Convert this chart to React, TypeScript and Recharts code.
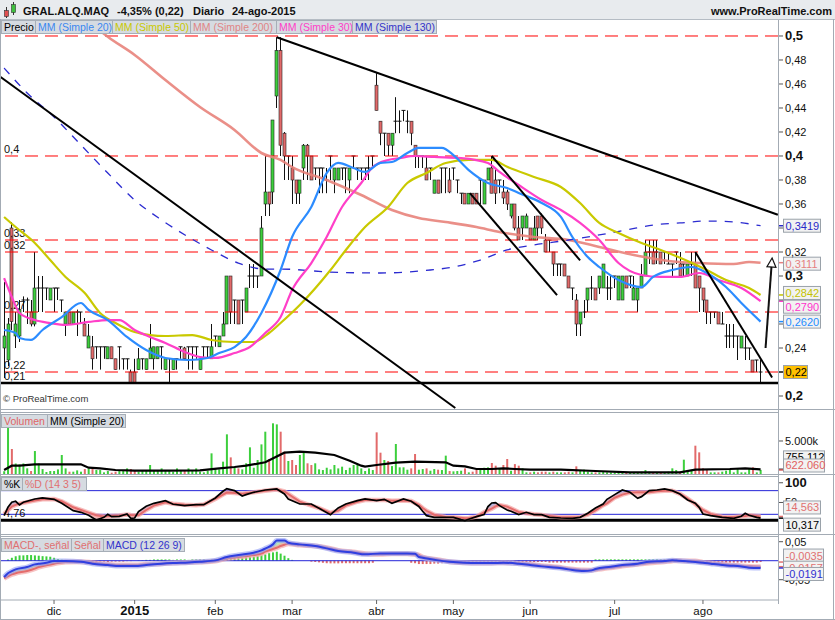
import React from 'react';
import { ComposedChart, Bar, Line, Area, XAxis, YAxis, ReferenceLine, Cell } from 'recharts';

const FONT = '"Liberation Sans", Arial, Helvetica, sans-serif';
const X_DOMAIN: [number, number] = [-1.07, 201.54];
const GREEN = '#3ccf3c';
const RED = '#e26a6a';
const FRAME = '#a3abb4';

// ---------- categories (trading-day index) ----------
const monthTicks = [13, 34, 55, 75, 97, 117, 137, 159, 182];
const monthLabels = ['dic', '2015', 'feb', 'mar', 'abr', 'may', 'jun', 'jul', 'ago'];

// ---------- price (OHLC) ----------
const openP = [
  .240,.230,.340,.250,.250,.280,.280,.270,.260,.290, .290,.290,.280,.290,.290,.280,.260,.270,.260,.270,
  .270,.260,.240,.241,.241,.241,.241,.231,.241,.231, .241,.231,.231,.220,.220,.222,.231,.222,.231,.231,
  .231,.241,.222,.231,.222,.231,.241,.240,.241,.241, .241,.222,.241,.241,.231,.250,.241,.250,.260,.300,
  .280,.280,.280,.270,.300,.300,.300,.300,.360,.370, .370,.450,.488,.419,.400,.390,.380,.369,.390,.409,
  .400,.390,.390,.390,.380,.400,.380,.380,.390,.390, .380,.400,.390,.390,.390,.390,.400,.459,.429,.419,
  .419,.409,.429,.429,.438,.429,.429,.409,.400,.400, .390,.390,.369,.380,.390,.390,.380,.390,.380,.369,
  .369,.360,.369,.369,.380,.360,.380,.390,.380,.380, .370,.370,.350,.360,.340,.340,.340,.340,.330,.350,
  .350,.330,.330,.320,.310,.310,.310,.300,.290,.280, .260,.270,.280,.290,.290,.290,.290,.290,.290,.300,
  .280,.280,.300,.300,.280,.280,.290,.300,.320,.320, .320,.320,.320,.310,.310,.320,.310,.310,.300,.310,
  .310,.300,.290,.280,.270,.270,.270,.260,.250,.250, .250,.250,.240,.240,.240,.230,.230,.220,
];
const highP = [
  .295,.265,.345,.270,.280,.283,.282,.280,.320,.300, .300,.290,.290,.290,.290,.280,.270,.270,.270,.272,
  .270,.265,.260,.250,.241,.241,.241,.241,.241,.231, .241,.231,.231,.222,.231,.240,.231,.231,.260,.241,
  .241,.241,.231,.231,.231,.231,.241,.241,.241,.241, .241,.231,.241,.241,.260,.250,.250,.270,.300,.300,
  .280,.280,.280,.290,.310,.310,.300,.350,.400,.370, .430,.499,.499,.420,.400,.400,.380,.380,.410,.410,
  .400,.390,.390,.390,.390,.400,.390,.390,.390,.390, .390,.400,.390,.390,.390,.400,.400,.469,.429,.419,
  .419,.419,.449,.438,.438,.438,.429,.409,.400,.400, .400,.390,.380,.380,.390,.390,.390,.390,.380,.369,
  .369,.369,.369,.369,.380,.380,.390,.400,.390,.380, .380,.372,.360,.360,.350,.350,.352,.340,.350,.350,
  .352,.335,.330,.320,.310,.310,.310,.300,.290,.285, .270,.280,.290,.300,.290,.300,.310,.300,.300,.300,
  .300,.300,.300,.300,.300,.290,.310,.330,.330,.330, .330,.320,.320,.320,.310,.320,.320,.310,.310,.320,
  .320,.300,.290,.280,.270,.270,.270,.270,.260,.260, .260,.250,.250,.250,.240,.230,.230,.230,
];
const lowP = [
  .215,.225,.255,.240,.245,.270,.260,.258,.258,.270, .270,.280,.280,.270,.280,.270,.250,.260,.260,.250,
  .260,.250,.240,.222,.231,.222,.231,.231,.231,.222, .222,.222,.222,.211,.211,.222,.222,.222,.231,.222,
  .231,.222,.222,.211,.222,.222,.231,.231,.222,.222, .231,.222,.231,.231,.231,.241,.241,.250,.260,.260,
  .260,.260,.260,.270,.290,.290,.290,.300,.350,.350, .360,.440,.400,.380,.380,.360,.360,.360,.380,.380,
  .380,.380,.369,.369,.369,.380,.369,.380,.380,.369, .369,.390,.380,.380,.380,.380,.390,.438,.409,.400,
  .400,.400,.419,.419,.429,.419,.409,.390,.390,.390, .380,.380,.369,.369,.369,.369,.369,.380,.369,.360,
  .360,.360,.360,.360,.360,.360,.380,.369,.360,.369, .360,.355,.348,.338,.330,.330,.340,.330,.330,.330,
  .335,.320,.320,.300,.300,.300,.300,.290,.280,.250, .250,.265,.270,.280,.280,.285,.290,.280,.280,.290,
  .280,.280,.290,.290,.280,.270,.290,.300,.310,.310, .310,.310,.310,.310,.300,.310,.300,.300,.300,.300,
  .290,.270,.270,.260,.260,.265,.260,.260,.240,.240, .240,.230,.240,.230,.230,.220,.220,.211,
];
const closeP = [
  .250,.260,.262,.260,.272,.280,.280,.260,.290,.290, .290,.290,.290,.290,.290,.280,.270,.260,.270,.270,
  .270,.250,.250,.231,.241,.241,.241,.241,.231,.222, .241,.231,.231,.211,.211,.231,.231,.231,.240,.241,
  .241,.241,.231,.231,.231,.231,.241,.231,.241,.241, .241,.231,.241,.241,.241,.250,.250,.260,.300,.270,
  .280,.260,.280,.290,.300,.300,.300,.340,.370,.360, .430,.488,.409,.400,.400,.380,.369,.380,.409,.400,
  .380,.390,.390,.390,.380,.400,.390,.390,.390,.390, .390,.400,.390,.390,.390,.390,.400,.438,.419,.419,
  .409,.419,.429,.429,.438,.429,.419,.400,.400,.400, .380,.390,.380,.369,.390,.390,.370,.390,.380,.369,
  .360,.369,.360,.360,.380,.380,.390,.369,.369,.380, .365,.360,.360,.340,.330,.350,.350,.330,.340,.340,
  .340,.320,.330,.310,.310,.310,.300,.290,.290,.260, .270,.270,.290,.290,.280,.300,.310,.290,.290,.300,
  .300,.300,.290,.300,.290,.290,.300,.320,.320,.310, .320,.310,.320,.310,.310,.320,.300,.310,.310,.310,
  .290,.290,.280,.270,.270,.270,.260,.260,.250,.250, .250,.250,.250,.240,.240,.220,.230,.220,
];

// ---------- moving averages [index, value] ----------
const ma20 = [[0,.255],[3,.2525],[4,.2483],[7,.2467],[10,.255],[15,.2658],[20,.2775],[22,.2717],[27,.2633],[32,.2492],[37,.2383],[42,.2317],[48,.23],[53,.2317],[56,.2358],[60,.2408],[63,.2492],[67,.2692],[72,.305],[75,.3325],[80,.3575],[84,.3858],[87,.3942],[91,.39],[94,.3867],[98,.3942],[101,.395],[105,.4025],[108,.4067],[114,.4067],[117,.4008],[121,.3883],[126,.3775],[131,.3733],[134,.3692],[140,.3608],[145,.3492],[148,.3325],[152,.3158],[155,.3075],[160,.2967],[166,.2908],[169,.2992],[174,.305],[179,.3075],[183,.3025],[188,.2908],[192,.2775],[197,.262]];
const ma50 = [[0,.3492],[3,.3408],[8,.3275],[12,.3133],[16,.2992],[21,.2858],[25,.2692],[29,.2608],[34,.2533],[38,.2508],[42,.25],[49,.2508],[54,.2467],[60,.245],[65,.245],[69,.2525],[72,.2608],[77,.2758],[85,.305],[89,.3217],[94,.3408],[100,.3575],[105,.3775],[110,.3858],[115,.3942],[121,.3967],[127,.3967],[131,.391],[138,.3825],[145,.3742],[150,.3608],[155,.3442],[160,.3358],[166,.3275],[171,.3217],[178,.3125],[183,.305],[188,.2967],[194,.29],[197,.2842]];
const ma200 = [[18,.522],[24,.507],[27,.4994],[34,.4842],[42,.4633],[51,.4408],[60,.4217],[67,.4025],[72,.3967],[75,.3908],[84,.38],[93,.3675],[101,.355],[108,.3483],[115,.345],[123,.3408],[129,.3367],[138,.3325],[147,.33],[155,.3242],[164,.3175],[173,.3125],[181,.3108],[190,.31],[194,.3117],[197,.3111]];
const ma30 = [[0,.2983],[2,.2825],[4,.2692],[8,.2633],[12,.2608],[16,.2592],[22,.2617],[27,.2633],[30,.2633],[34,.255],[38,.2492],[42,.2442],[47,.2367],[51,.2325],[55,.2317],[60,.2358],[64,.2408],[68,.2525],[72,.2658],[75,.2883],[80,.3108],[84,.3325],[88,.3575],[93,.3775],[96,.3908],[100,.3967],[103,.3983],[107,.40],[112,.3992],[119,.3983],[126,.3942],[129,.3867],[134,.3758],[140,.3633],[145,.355],[150,.3442],[155,.33],[160,.3108],[166,.3008],[171,.2992],[176,.2992],[181,.3025],[186,.2967],[192,.29],[197,.279]];
const ma130 = [[0,.4733],[6,.4525],[13,.4325],[20,.4092],[27,.3858],[34,.3633],[41,.3467],[48,.3325],[54,.3217],[61,.3108],[68,.3058],[72,.3058],[85,.3033],[98,.3025],[111,.305],[117,.3075],[124,.3133],[131,.3217],[138,.3258],[147,.33],[155,.3342],[162,.3383],[169,.3425],[176,.3442],[183,.3458],[190,.345],[197,.3419]];

// ---------- price annotations ----------
const dashedLevels = [0.5, 0.4, 0.33, 0.32, 0.27, 0.22];
const dashedLabels = ['', '0,4', '0,33', '0,32', '0,27', '0,22'];
const supportLevel = 0.2108;
const trendLines = [
  [[-1, 0.466], [117.5, 0.19]],
  [[71, 0.499], [201.5, 0.351]],
  [[127, 0.40], [150, 0.313]],
  [[121.3, 0.369], [144, 0.284]],
  [[180, 0.32], [200, 0.2155]],
];
const arrowLine = [[198.3, 0.24], [200, 0.315]];
const priceTicks = [0.2,0.22,0.24,0.26,0.28,0.3,0.32,0.34,0.36,0.38,0.4,0.42,0.44,0.46,0.48,0.5];
const hiddenPriceTicks = [0.22, 0.26, 0.28, 0.34];

// ---------- volume (thousands) ----------
const volume = [
  400,7000,3790,1600,1450,1600,860,450,3480,1600, 750,300,450,450,700,2880,850,350,350,550,
  350,750,850,750,600,600,250,450,200,350, 450,600,850,750,450,350,600,450,1360,550,
  450,850,450,450,350,850,550,450,850,550, 850,350,250,500,3130,850,700,1870,6010,2520,
  950,850,700,1620,4040,950,2120,4490,6410,2270, 7680,7520,6410,3380,1970,2120,1360,2880,3380,1620,
  1360,1620,700,600,950,700,1360,850,1110,600, 950,1360,1470,850,450,850,600,6310,3230,2120,
  1970,1200,4545,1010,1010,650,850,3030,650,750, 850,500,750,650,600,2780,450,400,450,500,
  850,250,350,650,850,950,1010,1670,1260,850, 1360,2270,500,1500,1260,850,250,250,350,250,
  350,350,250,350,250,250,250,350,250,1160, 500,650,350,250,250,250,350,250,250,250,
  250,250,250,250,250,250,350,600,350,250, 250,250,250,350,860,600,350,2170,350,500,
  4290,3280,860,750,250,250,250,350,500,750, 250,750,250,250,750,1010,250,622,
];
const volumeMA = [[0,606],[2,1262],[4,1262],[8,1465],[16,1465],[20,1465],[22,960],[25,860],[29,606],[34,505],[42,505],[51,555],[56,860],[60,1060],[63,1262],[68,1770],[73,3230],[77,3380],[81,3230],[86,2880],[90,2020],[93,1262],[94,1110],[97,1360],[102,1717],[107,1870],[115,1770],[117,1262],[120,1160],[123,757],[127,757],[130,860],[133,757],[137,656],[145,656],[154,455],[163,252],[176,252],[180,656],[189,757],[193,860],[197,700]];

// ---------- stochastic ----------
const stochIdx = [0,1,2,3,4,5,8,10,13,15,18,20,22,24,26,27,28,30,32,33,34,35,37,39,42,44,47,50,52,55,57,58,60,62,63,65,68,71,73,74,77,80,82,85,87,89,92,94,97,99,101,104,106,108,109,110,112,115,117,119,120,121,123,125,126,127,128,129,131,132,134,136,138,140,142,145,148,150,152,154,156,157,159,161,163,165,166,168,170,172,174,176,178,180,181,182,184,187,190,192,193,194,196,197];
const stochK = [16.7,37.8,50.5,53,43.7,50.5,58.9,61.5,58,48,29.3,25.1,17.5,5.7,12.4,20,14.1,15,20.9,9.9,10.7,26.8,40.3,47.9,54.7,45.4,42,44.5,44.5,61.5,78.4,85.1,80,66.5,69.9,75.8,81.7,84.3,71.6,58.9,46.2,46.2,35.2,19.2,36.1,46.2,54.7,58.9,54.7,58,48,58.9,53,40,27.6,16.7,12.4,12.4,12.4,6.5,4,7.4,14.1,19.2,39.5,48.8,49.6,42,31,27.6,19.2,25.1,19.2,19.2,12.4,10.7,9.9,12.4,22.6,36.1,46.2,58,69.9,81.7,75.8,60.6,64.8,80,81.7,84.3,80,71.6,56.4,48,37.8,20.9,16.7,12.4,9.9,15,22.6,17.5,12.4,10.3];
const stochD = [20.9,30,39.5,44,47.1,49,54.7,58,58.9,53,37.8,31,24.3,17.5,14.5,15,15.8,17,19.2,18,17.5,17.5,31,42,50.5,47,44,43,45,58.9,70,75,74,72,73.3,76,80,82.6,78,71.6,52,42,36,23.4,29.3,42,52,56.4,56.4,56,54.7,55,53.8,43.7,36,29,19,13.5,12.4,11,9.9,10.5,14.1,25.1,30,34.4,40,43.7,39.5,35,25.9,22.5,20,18,16,12.4,12.4,13.5,19.2,30,43,48,62,70,75,76,75.8,75.8,78.5,80,80,72,60,46.2,38,31,21,14,13,15,16,17.5,16,14.6];

// ---------- MACD ----------
const macdIdx = [0,1,2,3,6,8,9,11,13,16,20,23,27,30,34,37,41,44,48,51,55,58,61,65,67,68,70,71,72,73,74,77,81,84,87,91,94,98,101,105,107,108,109,113,116,120,123,127,130,134,137,140,144,147,151,153,154,158,161,165,168,172,174,175,177,180,182,184,187,189,191,194,197];
const macdLine = [-0.043,-0.033,-0.0275,-0.0228,-0.0167,-0.0096,-0.0083,-0.0053,-0.0009,-0.0009,-0.0026,-0.0079,-0.0114,-0.014,-0.014,-0.0114,-0.0079,-0.0061,-0.0044,-0.0026,0.0009,0.0096,0.0149,0.0211,0.0272,0.032,0.043,0.0535,0.0535,0.0535,0.0474,0.043,0.0386,0.0325,0.0254,0.0211,0.0167,0.0193,0.0193,0.0193,0.0184,0.0096,0.0079,0.0009,-0.0026,-0.0053,-0.0061,-0.0061,-0.0053,-0.0079,-0.0114,-0.0149,-0.0184,-0.0228,-0.0272,-0.0254,-0.0219,-0.0158,-0.0114,-0.0079,-0.0026,-0.0009,0.0009,0.0005,-0.0009,-0.0035,-0.0055,-0.0079,-0.0114,-0.0132,-0.014,-0.0184,-0.0191];
const signalLine = [-0.0465,-0.041,-0.036,-0.033,-0.0272,-0.021,-0.0167,-0.012,-0.0079,-0.0035,-0.0026,-0.0053,-0.0096,-0.0114,-0.0114,-0.0096,-0.0079,-0.0061,-0.0044,-0.0035,-0.0009,0.0061,0.0096,0.0149,0.0188,0.0237,0.031,0.034,0.0386,0.042,0.0447,0.0412,0.0386,0.0342,0.0272,0.0228,0.0184,0.0167,0.0184,0.0184,0.0165,0.0149,0.0096,0.0026,-0.0026,-0.0053,-0.0061,-0.0061,-0.0053,-0.007,-0.0096,-0.0132,-0.0167,-0.0211,-0.0246,-0.0248,-0.0237,-0.0184,-0.014,-0.0096,-0.0061,-0.0026,-0.0005,0,-0.0005,-0.0009,-0.0044,-0.006,-0.0088,-0.0114,-0.0127,-0.0149,-0.0157];
const macdHist = [
  0,.0033,.0077,.012,.014,.014,.0149,.0149,.014,.0132, .012,.0114,.0105,.0077,.0044,.0026,.0011,0,0,0,
  0,-.0011,-.0022,-.0022,-.0033,-.0022,-.0022,-.0033,-.0022,-.0022, -.0022,-.0022,-.0011,-.0011,0,.0011,.0011,.0022,.0022,.0033,
  .0033,.0033,.0033,.0033,.0022,.0033,.0033,.0033,.0022,.0033, .0033,.0033,.0033,.0022,.0033,.0033,.0033,.0033,.0044,.0055,
  .0066,.0077,.0077,.0088,.0099,.011,.0121,.0143,.0165,.0198, .022,.0237,.0187,.0132,.0066,.0022,0,0,0,0,
  -.0026,-.0033,-.0044,-.0055,-.0066,-.007,-.007,-.007,-.0066,-.0066, -.0066,-.0066,-.0066,-.0066,-.0066,-.0066,-.0055,0,0,0,
  0,0,0,0,0,0,-.0055,-.0066,-.0088,-.0088, -.0088,-.0088,-.0077,-.0077,-.0066,-.0044,-.0033,-.0033,-.0033,-.0033,
  -.0033,-.0033,-.0033,-.0033,-.0033,-.0033,-.0033,-.0033,-.0033,-.0033, -.0033,-.0033,-.0033,-.0033,-.0033,-.0033,-.0033,-.0033,-.0033,-.0033,
  -.0033,-.0033,-.005,-.005,-.005,-.005,-.005,-.005,-.005,-.005, -.005,-.005,-.005,-.005,.0035,.0035,.0035,.0035,.0035,.0035,
  .0035,.0035,.0035,.0035,.0035,.0035,.0035,.0035,.0035,.0035, .0035,.0035,.0035,.0035,.0035,.0035,0,-.005,-.005,-.005,
  -.005,-.005,-.005,-.005,-.005,-.005,-.005,-.005,-.005,-.005, -.005,-.005,-.005,-.005,-.005,-.005,-.005,-.0035,
];

// ---------- derived tables ----------
const candleRows = closeP.map((c, i) => ({ i, o: openP[i], h: highP[i], l: lowP[i], c, range: [lowP[i], highP[i]] }));
const volumeRows = volume.map((v, i) => ({ i, v, up: closeP[i] >= openP[i] }));
const histRows = macdHist.map((h, i) => ({ i, h }));
const toPts = (arr: number[][]) => arr.map(([i, v]) => ({ i, v }));
const stochRows = stochIdx.map((i, n) => {
  const k = stochK[n], d = stochD[n];
  return { i, k, d, up: k >= d ? [d, k] : [k, k], dn: k < d ? [k, d] : [d, d] };
});
const macdRows = macdIdx.map((i, n) => {
  const m = macdLine[n], s = signalLine[n];
  return { i, m, s, up: m >= s ? [s, m] : [m, m], dn: m < s ? [m, s] : [s, s] };
});

// ---------- shapes ----------
const CandleShape = (props: any) => {
  const { x, y, width, height, payload } = props;
  if (x == null || y == null || !payload) return <g />;
  const top = height >= 0 ? y : y + height;
  const hgt = Math.abs(height || 0);
  const { o, h, l, c } = payload;
  const span = h - l;
  const py = (v: number) => (span > 0 ? top + ((h - v) / span) * hgt : top);
  const cx = Math.round(x + width / 2) + 0.5;
  const bTop = py(Math.max(o, c));
  const bBot = py(Math.min(o, c));
  const up = c >= o;
  return (
    <g>
      <line x1={cx} x2={cx} y1={top} y2={top + hgt} stroke="#111" strokeWidth={1} />
      {bBot - bTop < 1.2 ? (
        <line x1={cx - 2} x2={cx + 2} y1={bTop} y2={bTop} stroke="#111" strokeWidth={1} />
      ) : (
        <rect x={cx - 1.5} y={bTop} width={3} height={bBot - bTop} fill={up ? GREEN : RED} stroke="#222" strokeWidth={0.6} />
      )}
    </g>
  );
};

const ArrowShape = (p: any) => {
  const x1 = Number(p.x1), y1 = Number(p.y1), x2 = Number(p.x2), y2 = Number(p.y2);
  const dx = x2 - x1, dy = y2 - y1;
  const len = Math.hypot(dx, dy) || 1;
  const ux = dx / len, uy = dy / len;
  const bx = x2 - ux * 9, by = y2 - uy * 9;
  const nx = -uy, ny = ux;
  return (
    <g>
      <line x1={x1} y1={y1} x2={bx} y2={by} stroke="#111" strokeWidth={2} />
      <polygon points={`${x2},${y2} ${bx + nx * 4.5},${by + ny * 4.5} ${bx - nx * 4.5},${by - ny * 4.5}`} fill="#fff" stroke="#111" strokeWidth={1.2} />
    </g>
  );
};

const LeftLabel = (props: any) => {
  const { viewBox, text } = props;
  if (!viewBox || !text) return <g />;
  return <text x={4} y={viewBox.y - 3} fontSize={11} fill="#111" fontFamily={FONT}>{text}</text>;
};

// right-axis text drawn as a reference label so that value boxes drawn later cover it
const AxisText = (props: any) => {
  const { viewBox, text } = props;
  if (!viewBox) return <g />;
  const xr = viewBox.x + viewBox.width;
  return <text x={xr + 7} y={viewBox.y + 4} fontSize={11} fill="#111" fontFamily={FONT}>{text}</text>;
};

const ValueBox = (props: any) => {
  const { viewBox, text, color, bg = '#f2f2f2', dy = 0, w = 37 } = props;
  if (!viewBox) return <g />;
  const xr = viewBox.x + viewBox.width;
  const yv = viewBox.y;
  const cy = yv + dy;
  return (
    <g>
      <line x1={xr} x2={xr + 5} y1={yv} y2={yv} stroke={color} strokeWidth={1.5} />
      <rect x={xr + 5.5} y={cy - 6.5} width={w} height={13} fill={bg} stroke="#9aa2aa" strokeWidth={1} />
      <text x={xr + 7.5} y={cy + 4} fontSize={11} fill={color} fontFamily={FONT}>{text}</text>
    </g>
  );
};

const PriceTick = (props: any) => {
  const { x, y, payload } = props;
  const v = payload.value as number;
  if (hiddenPriceTicks.some((h) => Math.abs(h - v) < 1e-6)) return <g />;
  const major = [0.5, 0.4, 0.3, 0.2].some((m) => Math.abs(m - v) < 1e-6);
  const label = String(+v.toFixed(2)).replace('.', ',');
  return (
    <text x={x} y={y + 4} fontSize={major ? 13 : 11} fontWeight={major ? 700 : 400} fill="#111" fontFamily={FONT}>{label}</text>
  );
};

const SimpleTick = (fmt: (v: number) => string, show: number[], boldVal?: number) => (props: any) => {
  const { x, y, payload } = props;
  const v = payload.value as number;
  if (!show.includes(v)) return <g />;
  const bold = boldVal !== undefined && v === boldVal;
  return (
    <text x={x} y={y + 4} fontSize={bold ? 13 : 11} fontWeight={bold ? 700 : 400} fill="#111" fontFamily={FONT}>{fmt(v)}</text>
  );
};
const VolTick = SimpleTick(() => '5.000k', [5000]);
const StochTick = SimpleTick((v) => String(v), [100], 100);
const MacdTick = SimpleTick((v) => v.toFixed(2).replace('.', ','), [0.05]);

const MonthTick = (props: any) => {
  const { x, y, payload } = props;
  const idx = monthTicks.indexOf(payload.value);
  const lab = idx >= 0 ? monthLabels[idx] : '';
  const bold = lab === '2015';
  return (
    <text x={x} y={y + 9} textAnchor="middle" fontSize={bold ? 13 : 11.5} fontWeight={bold ? 700 : 400} fill="#111" fontFamily={FONT}>{lab}</text>
  );
};

const M0 = { top: 0, right: 0, bottom: 0, left: 0 };
const M10 = { top: 10, right: 0, bottom: 0, left: 0 };

const hiddenX = (
  <XAxis dataKey="i" type="number" domain={X_DOMAIN} allowDataOverflow hide height={0} />
);

type Leg = { t: string; c: string; x: number; w: number };
const LegendRow = ({ items, y }: { items: Leg[]; y: number }) => (
  <g>
    {items.map((it) => (
      <g key={it.t}>
        <rect x={it.x + 0.5} y={y + 0.5} width={it.w} height={13} fill="#d6dbe1" stroke="#a6aeb7" />
        <text x={it.x + 3} y={y + 10.5} fontSize={10.5} fill={it.c} fontFamily={FONT}>{it.t}</text>
      </g>
    ))}
  </g>
);

const priceLegend: Leg[] = [
  { t: 'Precio', c: '#000', x: 1, w: 34 },
  { t: 'MM (Simple 20)', c: '#3a87f0', x: 35, w: 77 },
  { t: 'MM (Simple 50)', c: '#c8c800', x: 112, w: 78 },
  { t: 'MM (Simple 200)', c: '#e08585', x: 190, w: 86 },
  { t: 'MM (Simple 30)', c: '#ff40c8', x: 276, w: 76 },
  { t: 'MM (Simple 130)', c: '#3333c8', x: 352, w: 84 },
];
const volLegend: Leg[] = [
  { t: 'Volumen', c: '#e06666', x: 1, w: 46 },
  { t: 'MM (Simple 20)', c: '#000', x: 47, w: 78 },
];
const stochLegend: Leg[] = [
  { t: '%K', c: '#000', x: 1, w: 21 },
  { t: '%D (14 3 5)', c: '#e07070', x: 22, w: 64 },
];
const macdLegend: Leg[] = [
  { t: 'MACD-, señal', c: '#e07070', x: 1, w: 70 },
  { t: 'Señal', c: '#e07070', x: 71, w: 32 },
  { t: 'MACD (12 26 9)', c: '#3333cc', x: 103, w: 81 },
];

export default function App() {
  return (
    <div style={{ position: 'absolute', left: 0, top: 0, width: 835, height: 620, background: '#fff', overflow: 'hidden', fontFamily: FONT }}>
      {/* PRICE PANEL */}
      <div style={{ position: 'absolute', left: 0, top: 20 }}>
        <ComposedChart width={835} height={389} data={candleRows} margin={M0}>
          {hiddenX}
          <YAxis orientation="right" width={57} domain={[0.18917, 0.51333]} allowDataOverflow ticks={priceTicks} interval={0}
            tick={<PriceTick />} tickSize={5} tickLine={{ stroke: '#555' }} axisLine={false} />
          {dashedLevels.map((v, n) => (
            <ReferenceLine key={v} y={v} stroke="#ff0000" strokeDasharray="13 7" strokeWidth={1}
              label={<LeftLabel text={dashedLabels[n]} />} />
          ))}
          <ReferenceLine y={supportLevel} stroke="#000" strokeWidth={2.5} label={<LeftLabel text="0,21" />} />
          <Bar dataKey="range" barSize={3} shape={(p: any) => <CandleShape {...p} />} isAnimationActive={false} />
          <Line data={toPts(ma200)} dataKey="v" type="monotone" stroke="#e8837b" strokeWidth={2.6} strokeOpacity={0.9} dot={false} isAnimationActive={false} />
          <Line data={toPts(ma130)} dataKey="v" type="monotone" stroke="#2b2bd0" strokeWidth={1.3} strokeDasharray="8 8" dot={false} isAnimationActive={false} />
          <Line data={toPts(ma50)} dataKey="v" type="monotone" stroke="#c9c900" strokeWidth={2.2} dot={false} isAnimationActive={false} />
          <Line data={toPts(ma30)} dataKey="v" type="monotone" stroke="#ff3fc8" strokeWidth={2.2} dot={false} isAnimationActive={false} />
          <Line data={toPts(ma20)} dataKey="v" type="monotone" stroke="#2c8cff" strokeWidth={2.2} dot={false} isAnimationActive={false} />
          {trendLines.map((seg, n) => (
            <ReferenceLine key={'t' + n} segment={[{ x: seg[0][0], y: seg[0][1] }, { x: seg[1][0], y: seg[1][1] }]}
              stroke="#000" strokeWidth={2} ifOverflow="visible" />
          ))}
          <ReferenceLine segment={[{ x: arrowLine[0][0], y: arrowLine[0][1] }, { x: arrowLine[1][0], y: arrowLine[1][1] }]}
            ifOverflow="visible" shape={(p: any) => <ArrowShape {...p} />} />
          <ReferenceLine y={0.3419} stroke="none" label={<ValueBox text="0,3419" color="#2929c8" dy={0} />} />
          <ReferenceLine y={0.3111} stroke="none" label={<ValueBox text="0,3111" color="#e58080" dy={1} />} />
          <ReferenceLine y={0.2842} stroke="none" label={<ValueBox text="0,2842" color="#c2c200" dy={-2} />} />
          <ReferenceLine y={0.2790} stroke="none" label={<ValueBox text="0,2790" color="#ff33cc" dy={5.5} />} />
          <ReferenceLine y={0.2620} stroke="none" label={<ValueBox text="0,2620" color="#1e8cff" dy={0} />} />
          <ReferenceLine y={0.22} stroke="none" label={<ValueBox text="0,22" color="#000" bg="#ffc000" w={24} dy={0} />} />
        </ComposedChart>
      </div>

      {/* VOLUME PANEL */}
      <div style={{ position: 'absolute', left: 0, top: 403 }}>
        <ComposedChart width={835} height={71} data={volumeRows} margin={M10}>
          {hiddenX}
          <YAxis orientation="right" width={57} domain={[0, 9242]} allowDataOverflow ticks={[5000]} interval={0}
            tick={<VolTick />} tickSize={5} tickLine={{ stroke: '#555' }} axisLine={false} />
          <Bar dataKey="v" barSize={2} isAnimationActive={false}>
            {volumeRows.map((r) => <Cell key={r.i} fill={r.up ? GREEN : RED} />)}
          </Bar>
          <Line data={toPts(volumeMA)} dataKey="v" type="linear" stroke="#000" strokeWidth={2.2} dot={false} isAnimationActive={false} />
          <ReferenceLine y={700} stroke="none" label={<ValueBox text="755.112" color="#000" dy={-12} w={41} />} />
          <ReferenceLine y={622.06} stroke="none" label={<ValueBox text="622.060" color="#e06060" dy={-4.4} w={41} />} />
        </ComposedChart>
      </div>

      {/* STOCHASTIC PANEL */}
      <div style={{ position: 'absolute', left: 0, top: 467 }}>
        <ComposedChart width={835} height={67} data={stochRows} margin={M10}>
          {hiddenX}
          <YAxis orientation="right" width={57} domain={[-29.9, 114.6]} allowDataOverflow ticks={[50, 100]} interval={0}
            tick={<StochTick />} tickSize={5} tickLine={{ stroke: '#555' }} axisLine={false} />
          <ReferenceLine y={80} stroke="#2424d8" strokeWidth={1} />
          <ReferenceLine y={20} stroke="#2424d8" strokeWidth={1} />
          <ReferenceLine y={4.76} stroke="#000" strokeWidth={3} label={<LeftLabel text="4,76" />} />
          <Area dataKey="up" type="linear" stroke="none" fill="#8f8fd2" fillOpacity={0.65} isAnimationActive={false} />
          <Area dataKey="dn" type="linear" stroke="none" fill="#f2a9a9" fillOpacity={0.65} isAnimationActive={false} />
          <Line dataKey="d" type="linear" stroke="#f3a3a3" strokeWidth={4.5} strokeOpacity={0.7} dot={false} isAnimationActive={false} />
          <Line dataKey="d" type="linear" stroke="#e46c6c" strokeWidth={2} dot={false} isAnimationActive={false} />
          <Line dataKey="k" type="linear" stroke="#000" strokeWidth={1.7} dot={false} isAnimationActive={false} />
          <ReferenceLine y={50} stroke="none" label={<AxisText text="50" />} />
          <ReferenceLine y={14.563} stroke="none" label={<ValueBox text="14,563" color="#e07070" dy={-9} w={37} />} />
          <ReferenceLine y={10.317} stroke="none" label={<ValueBox text="10,317" color="#000" dy={6.5} w={37} />} />
        </ComposedChart>
      </div>

      {/* MACD PANEL + X AXIS */}
      <div style={{ position: 'absolute', left: 0, top: 527 }}>
        <ComposedChart width={835} height={93} data={histRows} margin={M10}>
          <XAxis dataKey="i" type="number" domain={X_DOMAIN} allowDataOverflow ticks={monthTicks} interval={0}
            tick={<MonthTick />} tickSize={4} height={20} axisLine={{ stroke: FRAME }} tickLine={{ stroke: '#666' }} />
          <YAxis orientation="right" width={57} domain={[-0.1034, 0.0624]} allowDataOverflow ticks={[-0.05, 0.05]} interval={0}
            tick={<MacdTick />} tickSize={5} tickLine={{ stroke: '#555' }} axisLine={false} />
          <ReferenceLine y={0} stroke="#2424d8" strokeWidth={1} />
          <Bar dataKey="h" barSize={2} isAnimationActive={false}>
            {histRows.map((r) => <Cell key={r.i} fill={r.h >= 0 ? GREEN : RED} />)}
          </Bar>
          <Area data={macdRows} dataKey="up" type="monotone" stroke="none" fill="#a6e8a0" fillOpacity={0.8} isAnimationActive={false} />
          <Area data={macdRows} dataKey="dn" type="monotone" stroke="none" fill="#f4c0c0" fillOpacity={0.7} isAnimationActive={false} />
          <Line data={macdRows} dataKey="s" type="monotone" stroke="#f3aaaa" strokeWidth={5} strokeOpacity={0.7} dot={false} isAnimationActive={false} />
          <Line data={macdRows} dataKey="s" type="monotone" stroke="#e46c6c" strokeWidth={2} dot={false} isAnimationActive={false} />
          <Line data={macdRows} dataKey="m" type="monotone" stroke="#8f9cf5" strokeWidth={5} strokeOpacity={0.6} dot={false} isAnimationActive={false} />
          <Line data={macdRows} dataKey="m" type="monotone" stroke="#2f3fe0" strokeWidth={2} dot={false} isAnimationActive={false} />
          <ReferenceLine y={-0.05} stroke="none" label={<AxisText text="-0,05" />} />
          <ReferenceLine y={-0.0035} stroke="none" label={<ValueBox text="-0,0035" color="#e07070" dy={-6.5} w={40} />} />
          <ReferenceLine y={-0.0157} stroke="none" label={<ValueBox text="-0,0157" color="#e07070" dy={1} w={40} />} />
          <ReferenceLine y={-0.0191} stroke="none" label={<ValueBox text="-0,0191" color="#3030d0" dy={6} w={40} />} />
        </ComposedChart>
      </div>

      {/* OVERLAY: title, legends, frames */}
      <svg width={835} height={620} style={{ position: 'absolute', left: 0, top: 0, pointerEvents: 'none' }}>
        <rect x={0} y={0} width={835} height={19} fill="#e8ebee" />
        <line x1={0} x2={835} y1={19.5} y2={19.5} stroke="#b5bcc4" />
        <line x1={6.5} x2={6.5} y1={7} y2={18} stroke="#333" />
        <rect x={4.5} y={10.5} width={4} height={6} fill="#e05050" stroke="#333" strokeWidth={0.6} />
        <line x1={13.5} x2={13.5} y1={2} y2={15} stroke="#333" />
        <rect x={11.5} y={4.5} width={4} height={8} fill="#40c040" stroke="#333" strokeWidth={0.6} />
        <g fontFamily={FONT} fontSize={11} fontWeight={700} fill="#111">
          <text x={23} y={15}>GRAL.ALQ.MAQ</text>
          <text x={117} y={15}>-4,35% (0,22)</text>
          <text x={193} y={15}>Diario</text>
          <text x={232} y={15}>24-ago-2015</text>
          <text x={832} y={15} textAnchor="end">www.ProRealTime.com</text>
        </g>
        <LegendRow items={priceLegend} y={20} />
        <LegendRow items={volLegend} y={414} />
        <LegendRow items={stochLegend} y={477} />
        <LegendRow items={macdLegend} y={538} />
        <text x={3} y={402} fontSize={9.5} fill="#333" fontFamily={FONT}>© ProRealTime.com</text>
        <g stroke={FRAME} strokeWidth={1}>
          <line x1={0.5} x2={0.5} y1={19} y2={620} />
          <line x1={833.5} x2={833.5} y1={19} y2={620} />
          <line x1={778.5} x2={778.5} y1={20} y2={604} />
          <line x1={0} x2={835} y1={409.5} y2={409.5} />
          <line x1={0} x2={778} y1={412.5} y2={412.5} />
          <line x1={0} x2={835} y1={474.5} y2={474.5} />
          <line x1={0} x2={778} y1={476.5} y2={476.5} />
          <line x1={0} x2={835} y1={534.5} y2={534.5} />
          <line x1={0} x2={778} y1={536.5} y2={536.5} />
          <line x1={0} x2={835} y1={619.5} y2={619.5} />
        </g>
      </svg>
    </div>
  );
}
